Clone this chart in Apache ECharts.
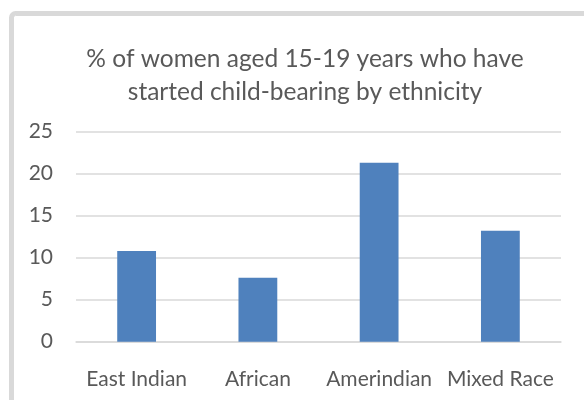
<!DOCTYPE html>
<html>
<head>
<meta charset="utf-8">
<script src="https://cdn.jsdelivr.net/npm/echarts@6/dist/echarts.min.js"></script>
<style>
  html, body { margin: 0; padding: 0; background: #fff; }
  #chart { width: 584px; height: 400px; }
</style>
</head>
<body>
<div id="chart"></div>
<script>
// Teenage child-bearing by ethnicity (percent of women aged 15-19)
const titleText = '% of women aged 15-19 years who have\nstarted child-bearing by ethnicity';
const categories = ['East Indian', 'African', 'Amerindian', 'Mixed Race'];
const values = [10.8, 7.6, 21.3, 13.2];
const yTicks = { min: 0, max: 25, interval: 5 };

const textColor = '#595959';
const fontFamily = 'Lato, "Open Sans", sans-serif';

const chart = echarts.init(document.getElementById('chart'), null, { renderer: 'canvas' });

chart.setOption({
  backgroundColor: '#ffffff',
  animation: false,
  graphic: [{
    type: 'rect',
    shape: { x: 11.5, y: 13.5, width: 700, height: 500, r: 4 },
    style: { fill: 'none', stroke: '#d9d9d9', lineWidth: 5 },
    silent: true,
    z: -1
  }],
  title: {
    text: titleText,
    left: 300,
    textAlign: 'center',
    top: 38,
    textStyle: {
      color: textColor,
      fontFamily: fontFamily,
      fontWeight: 'normal',
      fontSize: 24.5,
      lineHeight: 33
    }
  },
  grid: {
    left: 76,
    right: 23,
    top: 131.7,
    bottom: 58.3,
    containLabel: false
  },
  xAxis: {
    type: 'category',
    data: categories,
    axisLine: { show: true, lineStyle: { color: '#d9d9d9', width: 1.5 } },
    axisTick: { show: false },
    axisLabel: {
      color: textColor,
      fontFamily: fontFamily,
      fontSize: 21,
      margin: 27,
      interval: 0
    }
  },
  yAxis: {
    type: 'value',
    min: yTicks.min,
    max: yTicks.max,
    interval: yTicks.interval,
    axisLine: { show: false },
    axisTick: { show: false },
    splitLine: { lineStyle: { color: '#d9d9d9', width: 1.5 } },
    axisLabel: {
      color: textColor,
      fontFamily: fontFamily,
      fontSize: 21,
      margin: 23
    }
  },
  series: [{
    type: 'bar',
    data: values,
    barWidth: '32%',
    itemStyle: { color: '#4f81bd' }
  }]
});
</script>
</body>
</html>
